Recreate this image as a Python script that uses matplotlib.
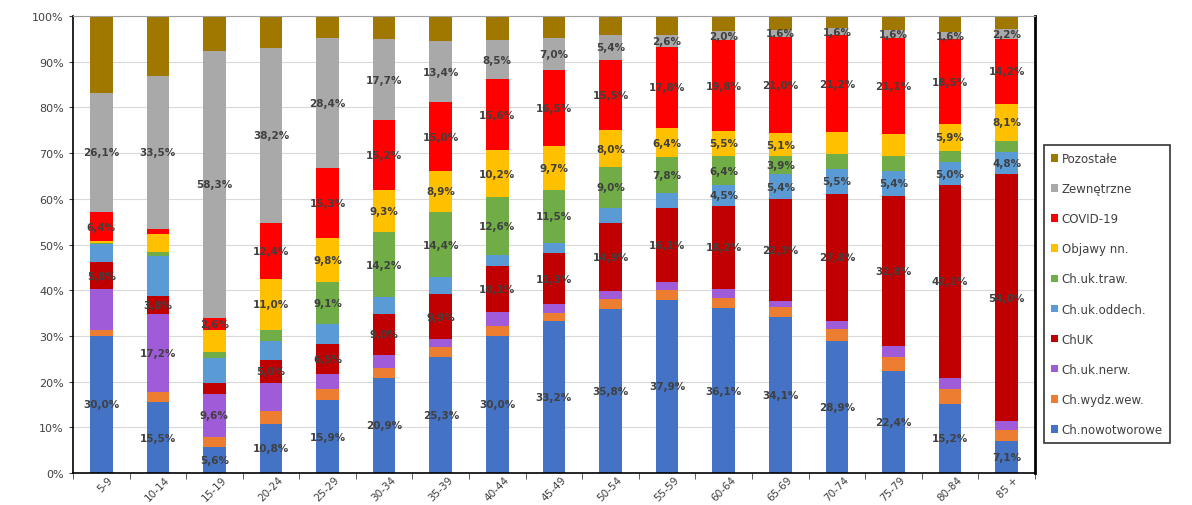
import numpy as np
import matplotlib
matplotlib.use("Agg")
import matplotlib.pyplot as plt

# ==========================
# Data (udzial przyczyn zgonow wg wieku, %)
# ==========================

age_groups = ["5-9", "10-14", "15-19", "20-24", "25-29", "30-34", "35-39", "40-44",
              "45-49", "50-54", "55-59", "60-64", "65-69", "70-74", "75-79", "80-84", "85 +"]

# stacking order: bottom -> top
series_names = ["Ch.nowotworowe", "Ch.wydz.wew.", "Ch.uk.nerw.", "ChUK", "Ch.uk.oddech.",
                "Ch.uk.traw.", "Objawy nn.", "COVID-19", "Zewnętrzne", "Pozostałe"]

nowotworowe = [30.0, 15.5, 5.6, 10.8, 15.9, 20.9, 25.3, 30.0, 33.2, 35.8, 37.9, 36.1, 34.1, 28.9, 22.4, 15.2, 7.1]
wydz_wew    = [1.4, 2.2, 2.2, 2.8, 2.5, 2.1, 2.2, 2.2, 1.9, 2.2, 2.2, 2.3, 2.2, 2.6, 2.9, 3.2, 2.4]
uk_nerw     = [8.9, 17.2, 9.6, 6.2, 3.3, 2.9, 1.8, 3.0, 1.8, 1.8, 1.8, 1.9, 1.4, 1.8, 2.6, 2.5, 1.9]
chuk        = [5.8, 3.8, 2.4, 5.0, 6.5, 9.0, 9.9, 10.1, 11.3, 14.9, 16.1, 18.2, 22.3, 27.8, 32.8, 42.1, 54.0]
uk_oddech   = [4.0, 8.9, 5.3, 4.1, 4.4, 3.6, 3.6, 2.5, 2.2, 3.3, 3.3, 4.5, 5.4, 5.5, 5.4, 5.0, 4.8]
uk_traw     = [0.3, 0.7, 1.4, 2.5, 9.1, 14.2, 14.4, 12.6, 11.5, 9.0, 7.8, 6.4, 3.9, 3.3, 3.3, 2.5, 2.5]
objawy      = [0.3, 4.0, 4.9, 11.0, 9.8, 9.3, 8.9, 10.2, 9.7, 8.0, 6.4, 5.5, 5.1, 4.7, 4.8, 5.9, 8.1]
covid       = [6.4, 1.1, 2.6, 12.4, 15.3, 15.2, 15.0, 15.6, 16.5, 15.5, 17.8, 19.8, 21.0, 21.2, 21.1, 18.5, 14.2]
zewnetrzne  = [26.1, 33.5, 58.3, 38.2, 28.4, 17.7, 13.4, 8.5, 7.0, 5.4, 2.6, 2.0, 1.6, 1.6, 1.6, 1.6, 2.2]
pozostale   = [16.8, 13.1, 7.7, 7.0, 4.8, 5.1, 5.5, 5.3, 4.9, 4.1, 4.1, 3.3, 3.0, 2.6, 3.1, 3.5, 2.8]

values = [nowotworowe, wydz_wew, uk_nerw, chuk, uk_oddech, uk_traw, objawy, covid, zewnetrzne, pozostale]

# which segments carry a printed data label (1 = label shown)
labelled = [
    [1] * 17,
    [0] * 17,
    [0, 1, 1, 0, 0, 0, 0, 0, 0, 0, 0, 0, 0, 0, 0, 0, 0],
    [1, 1, 0, 1, 1, 1, 1, 1, 1, 1, 1, 1, 1, 1, 1, 1, 1],
    [0, 0, 0, 0, 0, 0, 0, 0, 0, 0, 0, 1, 1, 1, 1, 1, 1],
    [0, 0, 0, 0, 1, 1, 1, 1, 1, 1, 1, 1, 1, 0, 0, 0, 0],
    [0, 0, 0, 1, 1, 1, 1, 1, 1, 1, 1, 1, 1, 0, 0, 1, 1],
    [1, 0, 1, 1, 1, 1, 1, 1, 1, 1, 1, 1, 1, 1, 1, 1, 1],
    [1] * 17,
    [0] * 17,
]

colors = ["#4472C4", "#ED7D31", "#A05CD8", "#C00000", "#5B9BD5",
          "#70AD47", "#FFC000", "#FF0000", "#A9A9A9", "#A07800"]

# ==========================
# Plot
# ==========================

fig = plt.figure(figsize=(11.92, 5.06), dpi=100)
ax = fig.add_axes([0.0612, 0.0632, 0.8070, 0.9030])

x = np.arange(len(age_groups))
bottom = np.zeros(len(age_groups))
handles = []

for i, name in enumerate(series_names):
    vals = np.array(values[i])
    bars = ax.bar(x, vals, width=0.4, bottom=bottom, color=colors[i], label=name, zorder=2)
    handles.append(bars)
    for j in range(len(x)):
        if labelled[i][j]:
            txt = f"{vals[j]:.1f}%".replace(".", ",")
            ax.text(x[j], bottom[j] + vals[j] / 2, txt, ha="center", va="center",
                    fontsize=7.5, color="#404040", fontweight="bold", zorder=3)
    bottom += vals

ax.set_xlim(-0.5, len(age_groups) - 0.5)
ax.set_ylim(0, 100)
ax.set_yticks(np.arange(0, 101, 10))
ax.set_yticklabels([f"{v}%" for v in range(0, 101, 10)], fontsize=8, color="#404040")
ax.yaxis.grid(True, color="#D9D9D9", linewidth=0.8, zorder=0)
ax.set_axisbelow(True)

ax.set_xticks(x + 0.12)
ax.set_xticklabels(age_groups, rotation=45, ha="right", rotation_mode="anchor",
                   fontsize=7.5, color="#404040")
ax.tick_params(axis="x", length=0, pad=1)
ax.set_xticks(np.arange(-0.5, len(age_groups), 1), minor=True)
ax.tick_params(axis="x", which="minor", length=4, color="#404040")
ax.tick_params(axis="y", length=3, color="#404040")

for side in ["left", "bottom", "right"]:
    ax.spines[side].set_color("black")
    ax.spines[side].set_linewidth(1.2)
ax.spines["right"].set_linewidth(2)
ax.spines["top"].set_color("#A0A0A0")

# legend: reversed order (top series first)
leg = fig.legend(handles[::-1], series_names[::-1], loc="upper left",
                 bbox_to_anchor=(1038 / 1192, 1 - 140 / 506), fontsize=8.5,
                 handlelength=0.6, handleheight=0.6, labelspacing=1.45,
                 frameon=True, fancybox=False, edgecolor="black", borderpad=0.6,
                 handletextpad=0.3, labelcolor="#404040")
leg.get_frame().set_linewidth(1.2)

fig.savefig("out.png", dpi=100)
